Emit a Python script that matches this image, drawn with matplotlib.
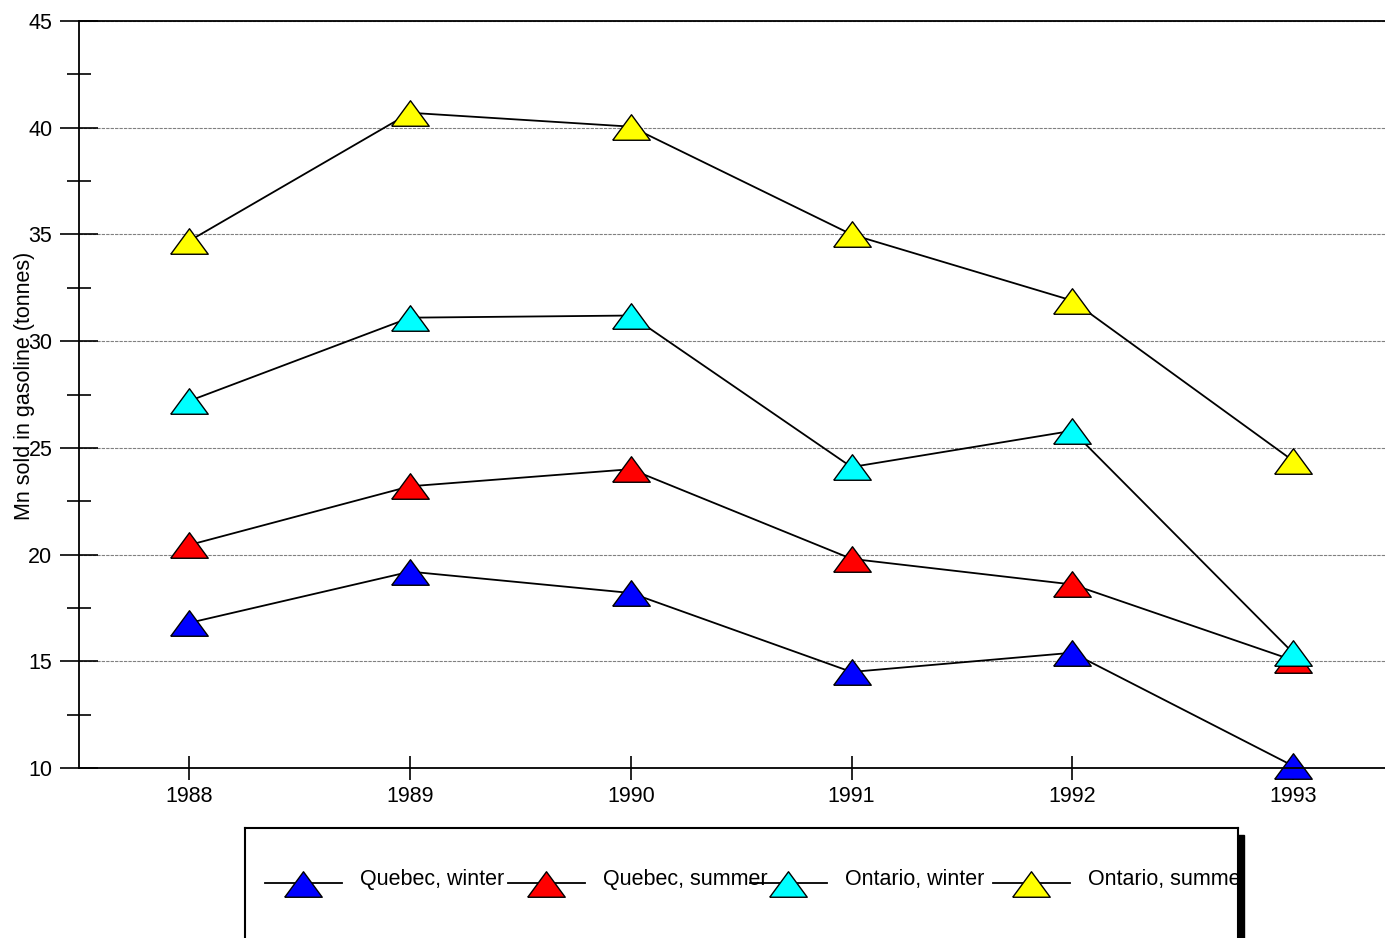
import matplotlib
matplotlib.use('Agg')
import matplotlib.pyplot as plt
from matplotlib.patches import Rectangle
from matplotlib.ticker import MultipleLocator

plt.rcParams['font.family'] = ['Liberation Sans', 'DejaVu Sans']

# data
years = [1988, 1989, 1990, 1991, 1992, 1993]
quebec_winter = [16.8, 19.2, 18.2, 14.5, 15.4, 10.1]
quebec_summer = [20.45, 23.2, 24.0, 19.8, 18.6, 15.05]
ontario_winter = [27.2, 31.1, 31.2, 24.1, 25.8, 15.4]
ontario_summer = [34.7, 40.7, 40.05, 35.0, 31.9, 24.4]
series_names = ['Quebec, winter', 'Quebec, summer', 'Ontario, winter', 'Ontario, summer']
series_colors = ['#0000ff', '#ff0000', '#00ffff', '#ffff00']

# wide flat triangle marker
tri = [(-1, -0.68), (1, -0.68), (0, 0.68), (-1, -0.68)]
FS = 15.5

fig = plt.figure(figsize=(13.85, 9.38), dpi=100)
ax = fig.add_axes([79/1385, 170/938, 1306/1385, 747/938])

for vals, name, col in zip([quebec_winter, quebec_summer, ontario_winter, ontario_summer],
                           series_names, series_colors):
    ax.plot(years, vals, color='black', lw=1.3, marker=tri, ms=27,
            markerfacecolor=col, markeredgecolor='black', markeredgewidth=1.0,
            label=name, clip_on=False)

ax.set_xlim(1987.5, 1993.417)
ax.set_ylim(10, 45)
ax.set_xticks(years)
ax.yaxis.set_major_locator(MultipleLocator(5))
ax.yaxis.set_minor_locator(MultipleLocator(2.5))
ax.tick_params(axis='y', which='major', direction='inout', length=27.5, width=1.2,
               labelsize=FS, pad=5.5)
ax.tick_params(axis='y', which='minor', direction='inout', length=17.5, width=1.2)
ax.tick_params(axis='x', which='major', direction='inout', length=17.5, width=1.2,
               labelsize=FS, pad=4.5)
for s in ['left', 'bottom', 'top']:
    ax.spines[s].set_linewidth(1.3)
ax.spines['right'].set_visible(False)
ax.grid(axis='y', which='major', color='#808080', linestyle=(0, (3, 1)), lw=0.8)
ax.set_axisbelow(True)

fig.text(25/1385, 1 - 386/938, 'Mn sold in gasoline (tonnes)', rotation=90,
         ha='center', va='center', fontsize=15.5)

# legend box, partly cut off by the figure edge
lax = fig.add_axes([245/1385, (938-1032)/938, (1238-245)/1385, (1032-828)/938])
lax.set_xlim(245, 1238)
lax.set_ylim(1032, 828)
lax.set_xticks([])
lax.set_yticks([])
for s in ['left', 'top', 'right']:
    lax.spines[s].set_linewidth(1.5)
lax.add_patch(Rectangle((1238, 835), 6, 200, color='black', clip_on=False))
for i, (name, col) in enumerate(zip(series_names, series_colors)):
    x0 = 265 + i * 242.7
    lax.plot([x0, x0 + 77], [883, 883], color='black', lw=1.3)
    lax.plot([x0 + 38], [884], marker=tri, ms=27, color='black', lw=0,
             markerfacecolor=col, markeredgecolor='black', markeredgewidth=1.0)
    lax.text(x0 + 95, 885, name, fontsize=FS, va='baseline', ha='left', clip_on=True)

fig.savefig('out.png', dpi=100)
